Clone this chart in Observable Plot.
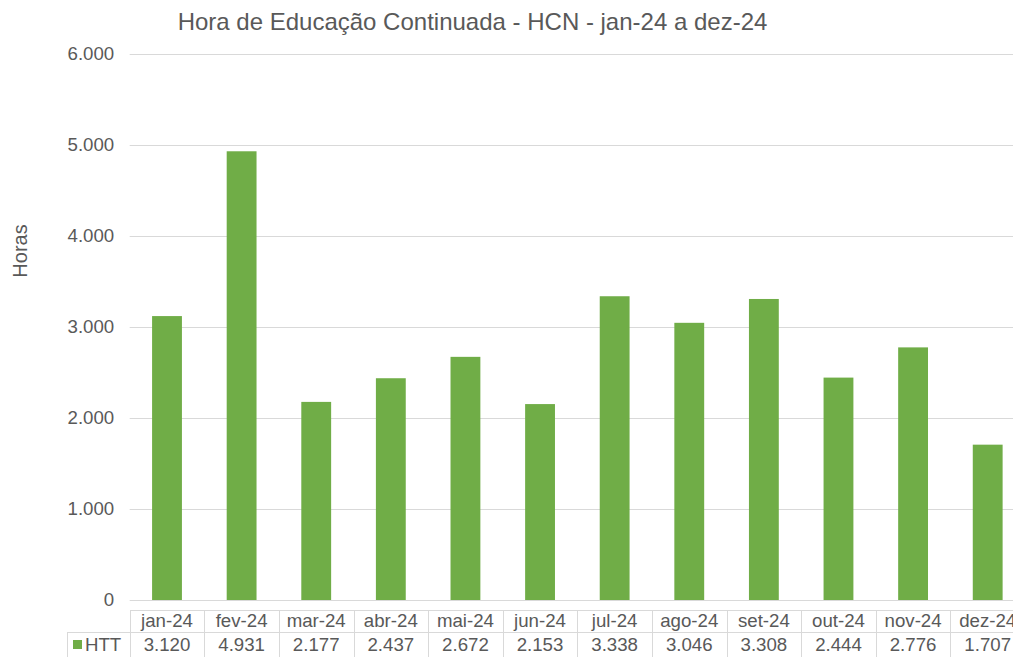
<!DOCTYPE html>
<html><head><meta charset="utf-8">
<script src="https://cdn.jsdelivr.net/npm/d3@7"></script>
<script src="https://cdn.jsdelivr.net/npm/@observablehq/plot@0.6"></script>
<style>
body{margin:0;background:#fff;overflow:hidden;font-family:"Liberation Sans",Arial,sans-serif;color:#595959}
#wrap{position:relative;width:1013px;height:657px;overflow:hidden;background:#fff}
#wrap svg{position:absolute;left:0;top:0;max-width:none !important}
.abs{position:absolute;white-space:nowrap}
.hl{position:absolute;height:0;border-top:1px solid #d9d9d9}
.vl{position:absolute;width:0;border-left:1px solid #d9d9d9}
.cell{position:absolute;text-align:center;white-space:nowrap;font-size:18.67px;line-height:22px}
</style></head><body><div id="wrap"></div>
<script>
const months = ["jan-24","fev-24","mar-24","abr-24","mai-24","jun-24","jul-24","ago-24","set-24","out-24","nov-24","dez-24"];
const htt = [3120, 4931, 2177, 2437, 2672, 2153, 3338, 3046, 3308, 2444, 2776, 1707];
const seriesName = "HTT";
const titleText = "Hora de Educação Continuada - HCN - jan-24 a dez-24";
const yLabelText = "Horas";
const yTicks = [0, 1000, 2000, 3000, 4000, 5000, 6000];

const data = months.map((m, i) => ({month: m, value: htt[i]}));
const loc = d3.formatLocale({decimal: ",", thousands: ".", grouping: [3], currency: ["R$", ""]});
const fmt = loc.format(",d");
const green = "#70AD47", grey = "#595959", line = "#d9d9d9";
const font = "'Liberation Sans', Arial, sans-serif";

const chart = Plot.plot({
  width: 1025, height: 610,
  marginTop: 54, marginBottom: 10, marginLeft: 129.7, marginRight: 0,
  style: {fontFamily: font, color: grey, background: "transparent", overflow: "visible", maxWidth: "none"},
  x: {domain: months, paddingInner: 0.6, paddingOuter: 0.3, round: false, axis: null},
  y: {domain: [0, 6000], axis: null},
  marks: [
    Plot.gridY(yTicks.slice(1), {stroke: line, strokeOpacity: 1, strokeWidth: 1}),
    Plot.ruleY([0], {stroke: line, strokeWidth: 1}),
    Plot.barY(data, {x: "month", y: "value", fill: green}),
    Plot.axisY(yTicks, {tickSize: 0, tickPadding: 16, tickFormat: fmt, fontSize: 18.67, fill: grey, label: null})
  ]
});

const wrap = document.getElementById("wrap");
wrap.appendChild(chart);

function add(cls, css, text) {
  const d = document.createElement("div");
  d.className = cls;
  Object.assign(d.style, css);
  if (text != null) d.textContent = text;
  wrap.appendChild(d);
  return d;
}

// title
add("abs", {left: "0px", width: "945px", top: "8px", textAlign: "center", fontSize: "24px", lineHeight: "28px"}, titleText);
// y label
add("abs", {left: "20px", top: "251px", fontSize: "20px", transform: "translate(-50%,-50%) rotate(-90deg)"}, yLabelText);

// data table aligned with the x band scale
const xs = chart.scale("x");
const step = xs.step;
const left0 = xs.range[0];
const right = left0 + step * months.length;
const tTop = 610, tMid = 632, tBot = 657;
add("hl", {left: left0 + "px", width: (right - left0) + "px", top: tTop + "px"});
add("hl", {left: "67px", width: (right - 67) + "px", top: tMid + "px"});
add("vl", {left: "67px", top: tMid + "px", height: (tBot - tMid) + "px"});
months.forEach((m, i) => {
  const cx = left0 + step * i;
  add("vl", {left: Math.round(cx) + "px", top: tTop + "px", height: (tBot - tTop) + "px"});
  add("cell", {left: cx + "px", width: step + "px", top: (tTop + 0) + "px"}, m);
  add("cell", {left: cx + "px", width: step + "px", top: (tMid + 2) + "px"}, fmt(htt[i]));
});
// legend key
add("abs", {left: "73px", top: "640px", width: "9px", height: "9px", background: green});
add("cell", {left: "85px", width: "40px", textAlign: "left", top: (tMid + 2) + "px"}, seriesName);
</script></body></html>
